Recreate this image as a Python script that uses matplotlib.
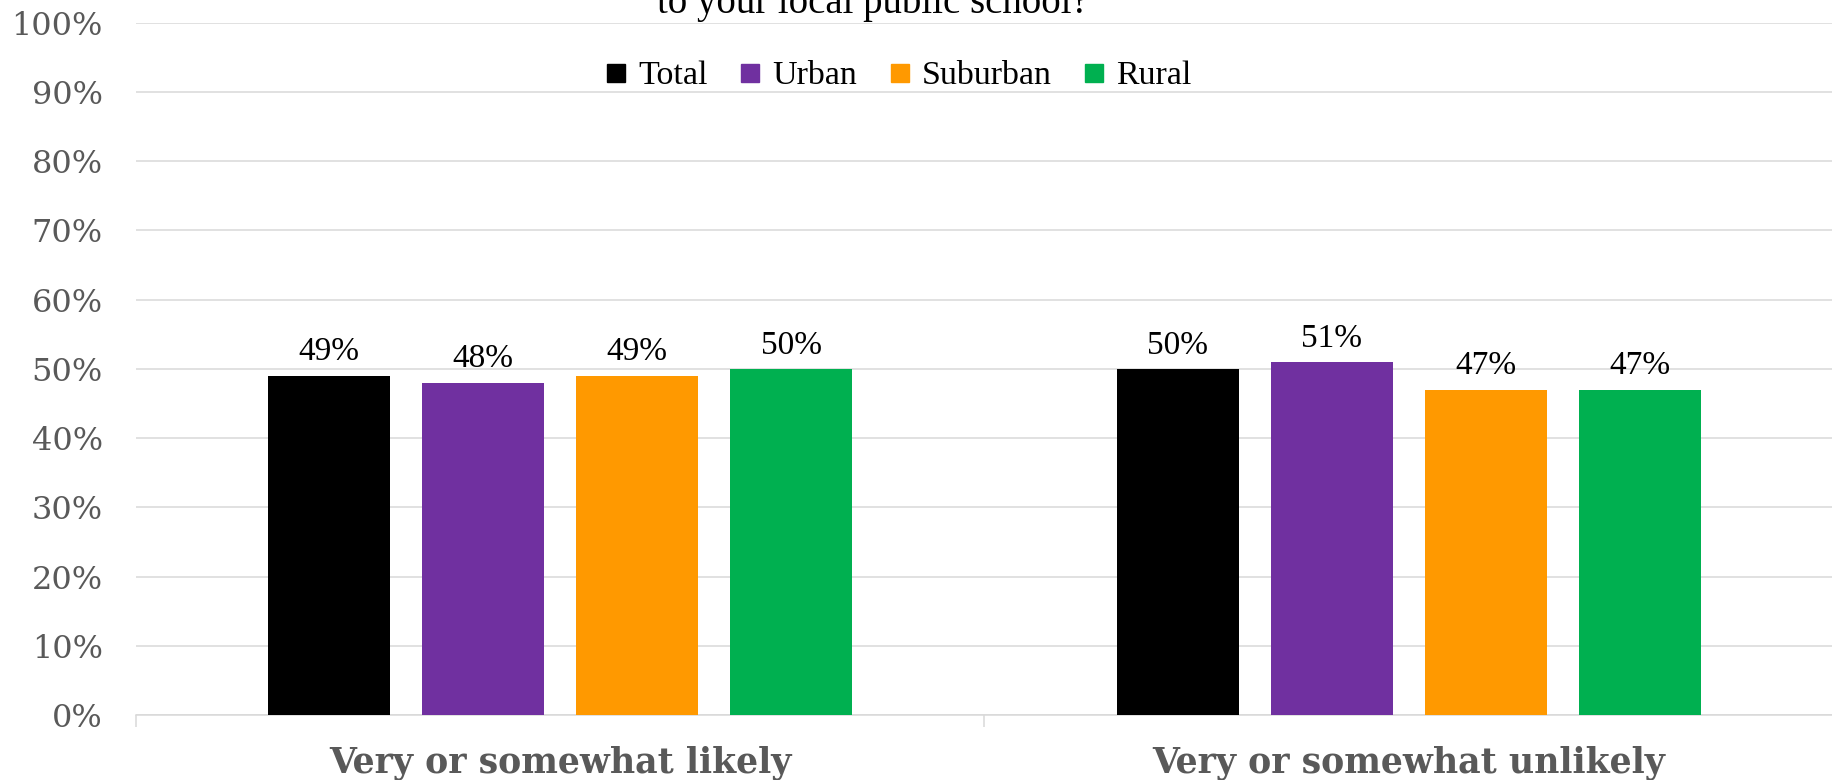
import numpy as np
import matplotlib
matplotlib.use('Agg')
import matplotlib.pyplot as plt
from matplotlib.lines import Line2D

# data
categories = ['Very or somewhat likely', 'Very or somewhat unlikely']
groups = ['Total', 'Urban', 'Suburban', 'Rural']
total = [49, 50]
urban = [48, 51]
suburban = [49, 47]
rural = [50, 47]
yticks = [0, 10, 20, 30, 40, 50, 60, 70, 80, 90, 100]

colors = ['#000000', '#7030A0', '#FF9900', '#00B050']
grey = '#595959'
gridc = '#D9D9D9'

plt.rcParams['font.family'] = 'serif'
plt.rcParams['font.serif'] = ['Liberation Serif', 'DejaVu Serif']

fig = plt.figure(figsize=(18.33, 7.8), dpi=100)
ax = fig.add_axes([136/1833, 65/780, 1 - 136/1833, 692.3/780])

unit = 854  # pixels per category
x = np.arange(len(categories))
step = 155/unit
width = 122.5/unit
series = [total, urban, suburban, rural]
for i, (vals, name, c) in enumerate(zip(series, groups, colors)):
    bars = ax.bar(x + (i - 1.5)*step, vals, width, color=c, label=name, zorder=3)
    ax.bar_label(bars, labels=[f'{v}%' for v in vals], padding=6,
                 fontsize=24, color='black')

ax.set_xlim(-0.5, (1833 - 136)/unit - 0.5)
ax.set_ylim(0, 100)

ax.set_yticks(yticks)
ax.set_yticklabels([f'{t}%' for t in yticks], fontfamily='DejaVu Serif',
                   fontsize=23, color=grey)
ax.tick_params(axis='y', length=0, pad=24)
ax.yaxis.grid(True, color=gridc, linewidth=1.1, zorder=0)

ax.set_xticks(x)
ax.set_xticklabels(categories, fontfamily='DejaVu Serif', fontweight='bold',
                   fontsize=25, color=grey)
ax.set_xticks([-0.5, 0.5, 1.5], minor=True)
ax.tick_params(axis='x', which='major', length=0, pad=22)
ax.tick_params(axis='x', which='minor', length=8.6, color=gridc, width=1.1)

for s in ['top', 'left', 'right']:
    ax.spines[s].set_visible(False)
ax.spines['bottom'].set_color(gridc)
ax.spines['bottom'].set_linewidth(1.1)

# legend with square markers
handles = [Line2D([], [], marker='s', linestyle='none', markersize=13,
                  markerfacecolor=c, markeredgecolor=c) for c in colors]
fig.legend(handles, groups, loc='center', bbox_to_anchor=(898/1833, 1 - 76/780),
           ncol=4, frameon=False, fontsize=24.5, handlelength=0.7,
           handletextpad=0.3, columnspacing=0.9)

# title (only the last line is inside the picture)
fig.text(873/1833, 1 - 12.7/780, 'to your local public school?', ha='center',
         va='baseline', fontsize=28)

fig.savefig('out.png', dpi=100)
